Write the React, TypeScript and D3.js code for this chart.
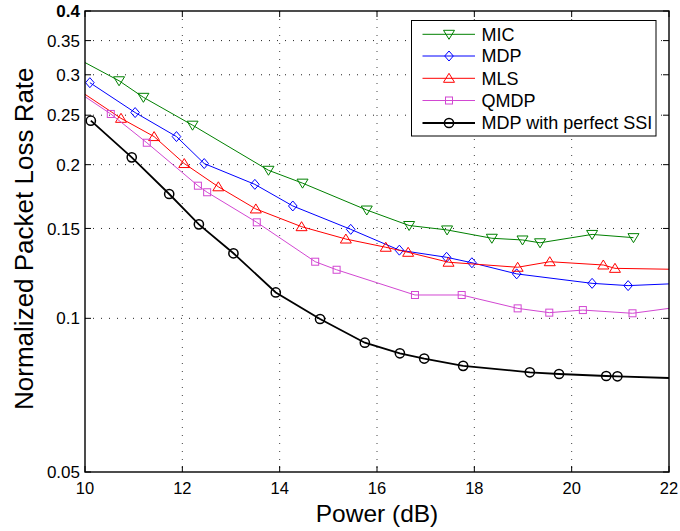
import React from "react";
import * as d3 from "d3";

const xTicks = [10, 12, 14, 16, 18, 20, 22];
const yTicks = [0.05, 0.1, 0.15, 0.2, 0.25, 0.3, 0.35, 0.4];
const yTickLabels = ["0.05", "0.1", "0.15", "0.2", "0.25", "0.3", "0.35", "0.4"];

const micX = [10, 10.70, 11.20, 12.21, 13.77, 14.47, 15.79, 16.66, 17.44, 18.36, 18.99, 19.35, 20.42, 21.27];
const micY = [0.317, 0.292, 0.271, 0.239, 0.195, 0.184, 0.163, 0.152, 0.149, 0.1435, 0.1424, 0.1406, 0.146, 0.1439];

const mdpX = [10.10, 11.03, 11.88, 12.45, 13.49, 14.27, 15.46, 16.46, 17.43, 17.95, 18.87, 20.42, 21.16, 22];
const mdpY = [0.2895, 0.253, 0.227, 0.201, 0.183, 0.166, 0.1494, 0.136, 0.1317, 0.1285, 0.1222, 0.1171, 0.1159, 0.1168];

const mlsX = [10, 10.74, 11.42, 12.04, 12.74, 13.51, 14.45, 15.36, 16.18, 16.64, 17.47, 18.89, 19.55, 20.65, 20.89, 22];
const mlsY = [0.2747, 0.2465, 0.227, 0.201, 0.181, 0.1638, 0.1512, 0.143, 0.1378, 0.1347, 0.1288, 0.1259, 0.1291, 0.1272, 0.1253, 0.1248];

const qmdpX = [10, 10.53, 11.27, 12.32, 12.51, 13.53, 14.73, 15.17, 16.78, 17.74, 18.89, 19.54, 20.23, 21.25, 22];
const qmdpY = [0.2718, 0.2514, 0.2208, 0.1819, 0.1766, 0.1542, 0.1291, 0.1245, 0.1111, 0.1111, 0.1046, 0.1026, 0.1038, 0.1023, 0.1046];

const ssiX = [10.12, 10.96, 11.73, 12.34, 13.05, 13.92, 14.83, 15.75, 16.47, 16.97, 17.77, 19.14, 19.74, 20.71, 20.94, 22];
const ssiY = [0.2439, 0.2067, 0.1752, 0.1528, 0.1341, 0.1124, 0.0997, 0.0896, 0.0854, 0.0834, 0.0807, 0.0784, 0.0778, 0.0771, 0.0770, 0.0764];

const seriesNames = ["MIC", "MDP", "MLS", "QMDP", "MDP with perfect SSI"];

type Marker = "tridown" | "diamond" | "triup" | "square" | "circle";

const series = [
  { name: seriesNames[0], xs: micX, ys: micY, color: "#008000", marker: "tridown" as Marker, width: 1 },
  { name: seriesNames[1], xs: mdpX, ys: mdpY, color: "#0000ff", marker: "diamond" as Marker, width: 1 },
  { name: seriesNames[2], xs: mlsX, ys: mlsY, color: "#ff0000", marker: "triup" as Marker, width: 1 },
  { name: seriesNames[3], xs: qmdpX, ys: qmdpY, color: "#d247d2", marker: "square" as Marker, width: 1 },
  { name: seriesNames[4], xs: ssiX, ys: ssiY, color: "#000000", marker: "circle" as Marker, width: 1.8 },
];

const W = 680;
const H = 531;
const L = 85, R = 669, T = 11, B = 472;
const FONT = "'Liberation Sans', Arial, Helvetica, sans-serif";

function MarkerShape({ type, cx, cy, color }: { type: Marker; cx: number; cy: number; color: string }) {
  const common = { fill: "none", stroke: color, strokeWidth: 1 };
  switch (type) {
    case "tridown":
      return <path d={`M${cx - 5.5},${cy - 4} L${cx + 5.5},${cy - 4} L${cx},${cy + 5} Z`} {...common} />;
    case "triup":
      return <path d={`M${cx - 5.5},${cy + 4} L${cx + 5.5},${cy + 4} L${cx},${cy - 5} Z`} {...common} />;
    case "diamond":
      return <path d={`M${cx},${cy - 5} L${cx + 4.3},${cy} L${cx},${cy + 5} L${cx - 4.3},${cy} Z`} {...common} />;
    case "square":
      return <rect x={cx - 3.5} y={cy - 3.5} width={7} height={7} {...common} />;
    case "circle":
      return <circle cx={cx} cy={cy} r={4.6} fill="none" stroke={color} strokeWidth={1.5} />;
  }
}

export default function App() {
  const x = d3.scaleLinear().domain([10, 22]).range([L, R]);
  const y = d3.scaleLog().domain([0.05, 0.4]).range([B, T]);
  const line = d3
    .line<[number, number]>()
    .x((d) => x(d[0]))
    .y((d) => y(d[1]));

  const legX = 411.5, legY = 20.5, legW = 244.5, legH = 115.5;
  const legRowY = [34.3, 56, 78.3, 100.5, 123];

  return (
    <svg width={W} height={H} style={{ position: "absolute", left: 0, top: 0, background: "#fff" }} fontFamily={FONT}>
      <rect x={0} y={0} width={W} height={H} fill="#fff" />
      {/* grid */}
      {xTicks.slice(1, -1).map((t) => (
        <line key={"gx" + t} x1={x(t)} x2={x(t)} y1={T} y2={B} stroke="#444" strokeWidth={1} strokeDasharray="1,7" />
      ))}
      {yTicks.slice(1, -1).map((t) => (
        <line key={"gy" + t} x1={L} x2={R} y1={y(t)} y2={y(t)} stroke="#222" strokeWidth={1} strokeDasharray="1,7" />
      ))}
      {/* ticks */}
      {xTicks.map((t) => (
        <g key={"tx" + t}>
          <line x1={x(t)} x2={x(t)} y1={B} y2={B - 6} stroke="#000" />
          <line x1={x(t)} x2={x(t)} y1={T} y2={T + 6} stroke="#000" />
          <text x={x(t)} y={494} fontSize={16.5} textAnchor="middle" fill="#000">{t}</text>
        </g>
      ))}
      {yTicks.map((t, i) => (
        <g key={"ty" + t}>
          <line x1={L} x2={L + 6} y1={y(t)} y2={y(t)} stroke="#000" />
          <line x1={R} x2={R - 6} y1={y(t)} y2={y(t)} stroke="#000" />
          <text
            x={80}
            y={y(t)}
            dy="0.36em"
            fontSize={17}
            textAnchor="end"
            fill="#000"
            fontWeight={i === yTicks.length - 1 ? "bold" : "normal"}
          >
            {yTickLabels[i]}
          </text>
        </g>
      ))}
      {/* series */}
      {series.map((s) => {
        const pts = s.xs.map((v, i) => [v, s.ys[i]] as [number, number]);
        return (
          <g key={s.name}>
            <path d={line(pts) || ""} fill="none" stroke={s.color} strokeWidth={s.width} />
            {pts
              .filter((p) => p[0] !== 10 && p[0] !== 22)
              .map((p, i) => (
                <MarkerShape key={i} type={s.marker} cx={x(p[0])} cy={y(p[1])} color={s.color} />
              ))}
          </g>
        );
      })}
      {/* axes box */}
      <rect x={L} y={T} width={R - L} height={B - T} fill="none" stroke="#000" strokeWidth={1.4} />
      {/* legend */}
      <rect x={legX} y={legY} width={legW} height={legH} fill="#fff" stroke="#000" strokeWidth={1} />
      {series.map((s, i) => (
        <g key={"leg" + s.name}>
          <line x1={422.5} x2={475} y1={legRowY[i]} y2={legRowY[i]} stroke={s.color} strokeWidth={s.width} />
          <MarkerShape type={s.marker} cx={449} cy={legRowY[i]} color={s.color} />
          <text x={481.5} y={legRowY[i]} dy="0.36em" fontSize={18} fill="#000">{s.name}</text>
        </g>
      ))}
      {/* axis labels */}
      <text x={377} y={521.5} fontSize={24.5} textAnchor="middle" fill="#000">Power (dB)</text>
      <text
        transform={`translate(33,238.7) rotate(-90)`}
        fontSize={26}
        textAnchor="middle"
        fill="#000"
      >
        Normalized Packet Loss Rate
      </text>
    </svg>
  );
}
